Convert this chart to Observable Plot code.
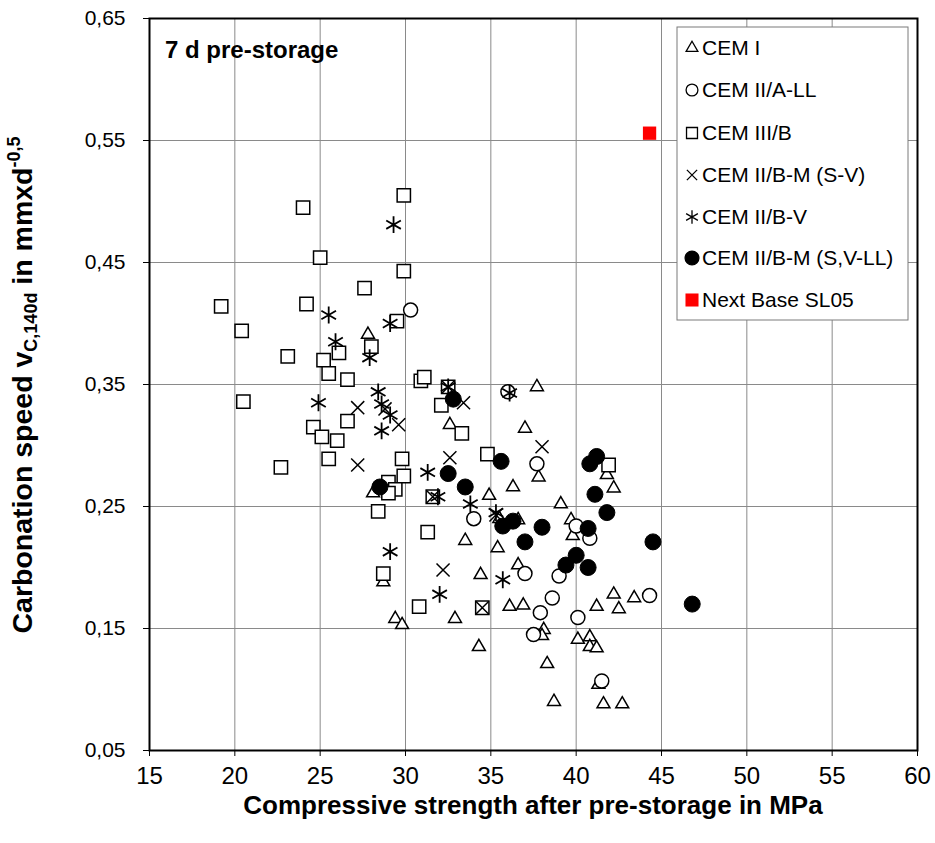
<!DOCTYPE html>
<html><head><meta charset="utf-8">
<script src="https://cdn.jsdelivr.net/npm/d3@7"></script>
<script src="https://cdn.jsdelivr.net/npm/@observablehq/plot@0.6"></script>
<style>body{margin:0;background:#fff;} svg{display:block;}</style>
</head><body><div id="chart"></div>
<script>
// ---- data (compressive strength MPa, carbonation speed) ----
const xTicks = [15, 20, 25, 30, 35, 40, 45, 50, 55, 60];
const yTicks = [0.05, 0.15, 0.25, 0.35, 0.45, 0.55, 0.65];

const cemI = [
  [27.8,0.391],[28.1,0.261],[28.7,0.188],[29.4,0.158],[29.8,0.153],[32.6,0.317],[33.5,0.222],
  [32.9,0.158],[34.4,0.194],[34.3,0.135],[34.9,0.259],[35.4,0.216],[35.5,0.240],[36.3,0.266],
  [36.6,0.239],[36.6,0.202],[36.1,0.168],[36.9,0.169],[37.7,0.348],[37.0,0.314],[37.8,0.274],
  [38.1,0.149],[38.0,0.144],[38.3,0.121],[38.7,0.090],[39.1,0.252],[39.7,0.239],[39.8,0.226],
  [40.1,0.141],[40.8,0.143],[40.8,0.135],[41.2,0.134],[41.3,0.104],[41.6,0.088],[42.7,0.088],
  [41.2,0.168],[42.2,0.178],[43.4,0.175],[42.5,0.166],[41.8,0.276],[42.2,0.265]
];
const cemIIALL = [
  [30.3,0.411],[36.0,0.344],[37.7,0.285],[34.0,0.240],[37.0,0.195],[39.0,0.193],[38.6,0.175],
  [37.9,0.163],[37.5,0.145],[40.1,0.159],[40.0,0.234],[40.8,0.224],[44.3,0.177],[41.5,0.107]
];
const cemIIIB = [
  [24.0,0.495],[29.9,0.505],[25.0,0.454],[29.9,0.443],[19.2,0.414],[24.2,0.416],[27.6,0.429],
  [28.0,0.381],[29.5,0.402],[20.4,0.394],[23.1,0.373],[25.2,0.370],[26.1,0.376],[25.5,0.359],
  [26.6,0.354],[20.5,0.336],[30.9,0.353],[31.1,0.356],[32.1,0.333],[32.5,0.348],[33.3,0.310],
  [24.6,0.315],[25.1,0.307],[26.0,0.304],[26.6,0.320],[25.5,0.289],[22.7,0.282],[29.8,0.289],
  [29.9,0.275],[29.0,0.270],[29.4,0.264],[29.0,0.261],[28.4,0.246],[31.6,0.258],[34.8,0.293],
  [31.3,0.229],[28.7,0.195],[30.8,0.168],[34.5,0.167],[41.9,0.284]
];
const cemIIBM_SV = [
  [27.2,0.331],[27.2,0.284],[28.8,0.330],[29.6,0.317],[33.4,0.335],[32.6,0.290],[38.0,0.299],
  [32.2,0.198],[34.5,0.167],[31.6,0.258],[35.3,0.243],[32.5,0.348]
];
const cemIIBV = [
  [29.3,0.481],[25.5,0.407],[25.9,0.385],[27.9,0.372],[29.1,0.400],[24.9,0.335],[28.4,0.344],
  [28.6,0.334],[29.1,0.325],[28.6,0.312],[32.5,0.348],[36.1,0.343],[31.3,0.278],[31.9,0.258],
  [33.8,0.252],[35.3,0.245],[29.1,0.213],[35.7,0.190],[32.0,0.178]
];
const cemIIBM_SVLL = [
  [28.5,0.266],[32.8,0.338],[32.5,0.277],[33.5,0.266],[35.6,0.287],[35.7,0.234],[36.3,0.238],
  [38.0,0.233],[37.0,0.221],[41.2,0.291],[40.8,0.285],[41.1,0.260],[41.8,0.245],[40.7,0.232],
  [44.5,0.221],[40.0,0.210],[39.4,0.202],[40.7,0.200],[46.8,0.170]
];
const nextBase = [[44.3,0.556]];

const legendLabels = ["CEM I","CEM II/A-LL","CEM III/B","CEM II/B-M (S-V)","CEM II/B-V","CEM II/B-M (S,V-LL)","Next Base SL05"];
const panelTitle = "7 d pre-storage";
const xTitle = "Compressive strength after pre-storage in MPa";

// ---- chart ----
const fmt = d => d3.format(".2f")(d).replace(".", ",");
const narrow = "'Liberation Sans Narrow','Arial Narrow','Liberation Sans',Arial,sans-serif";
const regular = "'Liberation Sans',Arial,sans-serif";
const px = d => d[0], py = d => d[1];

const chart = Plot.plot({
  width: 935, height: 843,
  marginLeft: 149, marginRight: 18, marginTop: 18, marginBottom: 93,
  style: {fontFamily: regular, color: "black", background: "white"},
  x: {domain: [15, 60]},
  y: {domain: [0.05, 0.65]},
  marks: [
    Plot.gridX(xTicks, {stroke: "#8a8a8a", strokeOpacity: 1, strokeWidth: 1}),
    Plot.gridY(yTicks, {stroke: "#8a8a8a", strokeOpacity: 1, strokeWidth: 1}),
    Plot.axisX(xTicks, {tickSize: 6, tickPadding: 10, fontSize: 24, fontFamily: narrow, label: null, tickFormat: d => String(d)}),
    Plot.axisY(yTicks, {tickSize: 6, tickPadding: 18, fontSize: 21, fontFamily: regular, label: null, tickFormat: fmt}),
    Plot.dot(cemI, {x: px, y: py, symbol: "triangle", r: 4.8, fill: "white", stroke: "black", strokeWidth: 1.5}),
    Plot.dot(cemIIALL, {x: px, y: py, symbol: "circle", r: 7, fill: "white", stroke: "black", strokeWidth: 1.5}),
    Plot.dot(cemIIIB, {x: px, y: py, symbol: "square", r: 7.5, fill: "white", stroke: "black", strokeWidth: 1.5}),
    Plot.dot(cemIIBM_SV, {x: px, y: py, symbol: "times", r: 6, fill: "none", stroke: "black", strokeWidth: 1.5}),
    Plot.dot(cemIIBV, {x: px, y: py, symbol: "asterisk", r: 8, fill: "none", stroke: "black", strokeWidth: 1.8}),
    Plot.dot(cemIIBM_SVLL, {x: px, y: py, symbol: "circle", r: 8, fill: "black", stroke: "black", strokeWidth: 1}),
    Plot.dot(nextBase, {x: px, y: py, symbol: "square", r: 7.5, fill: "#ff0000", stroke: "none"}),
    Plot.frame({stroke: "black", strokeWidth: 2})
  ]
});
document.getElementById("chart").appendChild(chart);

const svg = d3.select(chart);

// panel title
svg.append("text").attr("x", 165).attr("y", 58).attr("text-anchor", "start")
  .style("font-family", regular).style("font-weight", "bold").style("font-size", "24px")
  .attr("fill", "black").text(panelTitle);

// x-axis title
svg.append("text").attr("x", 533).attr("y", 814).attr("text-anchor", "middle")
  .style("font-family", narrow).style("font-weight", "bold").style("font-size", "26px")
  .attr("fill", "black").text(xTitle);

// y-axis title with sub/superscript
const yt = svg.append("text").attr("transform", "translate(32,385) rotate(-90)")
  .attr("text-anchor", "middle")
  .style("font-family", narrow).style("font-weight", "bold").style("font-size", "28.5px")
  .attr("fill", "black");
yt.append("tspan").text("Carbonation speed v");
yt.append("tspan").attr("dy", 5).style("font-size", "18px").text("C,140d");
yt.append("tspan").attr("dy", -5).text(" in mmxd");
yt.append("tspan").attr("dy", -12).style("font-size", "18px").text("-0,5");

// legend
const lg = svg.append("g");
lg.append("rect").attr("x", 677).attr("y", 27).attr("width", 231).attr("height", 293)
  .attr("fill", "white").attr("stroke", "#7a7a7a").attr("stroke-width", 1);
const legSym = [
  {type: d3.symbolTriangle, size: 60, fill: "white", stroke: "black"},
  {type: d3.symbolCircle, size: 110, fill: "white", stroke: "black"},
  {type: d3.symbolSquare, size: 120, fill: "white", stroke: "black"},
  {type: d3.symbolTimes, size: 70, fill: "none", stroke: "black"},
  {type: d3.symbolAsterisk, size: 130, fill: "none", stroke: "black"},
  {type: d3.symbolCircle, size: 150, fill: "black", stroke: "black"},
  {type: d3.symbolSquare, size: 170, fill: "#ff0000", stroke: "none"}
];
const legY = [48, 90, 133, 175, 217, 258, 300];
legendLabels.forEach((lab, i) => {
  const s = legSym[i];
  lg.append("path").attr("transform", `translate(692,${legY[i]})`)
    .attr("d", d3.symbol(s.type, s.size)())
    .attr("fill", s.fill).attr("stroke", s.stroke).attr("stroke-width", 1.3);
  lg.append("text").attr("x", 702).attr("y", legY[i]).attr("dy", "0.35em").attr("text-anchor", "start")
    .style("font-family", regular).style("font-size", "21px").attr("fill", "black").text(lab);
});
</script></body></html>
